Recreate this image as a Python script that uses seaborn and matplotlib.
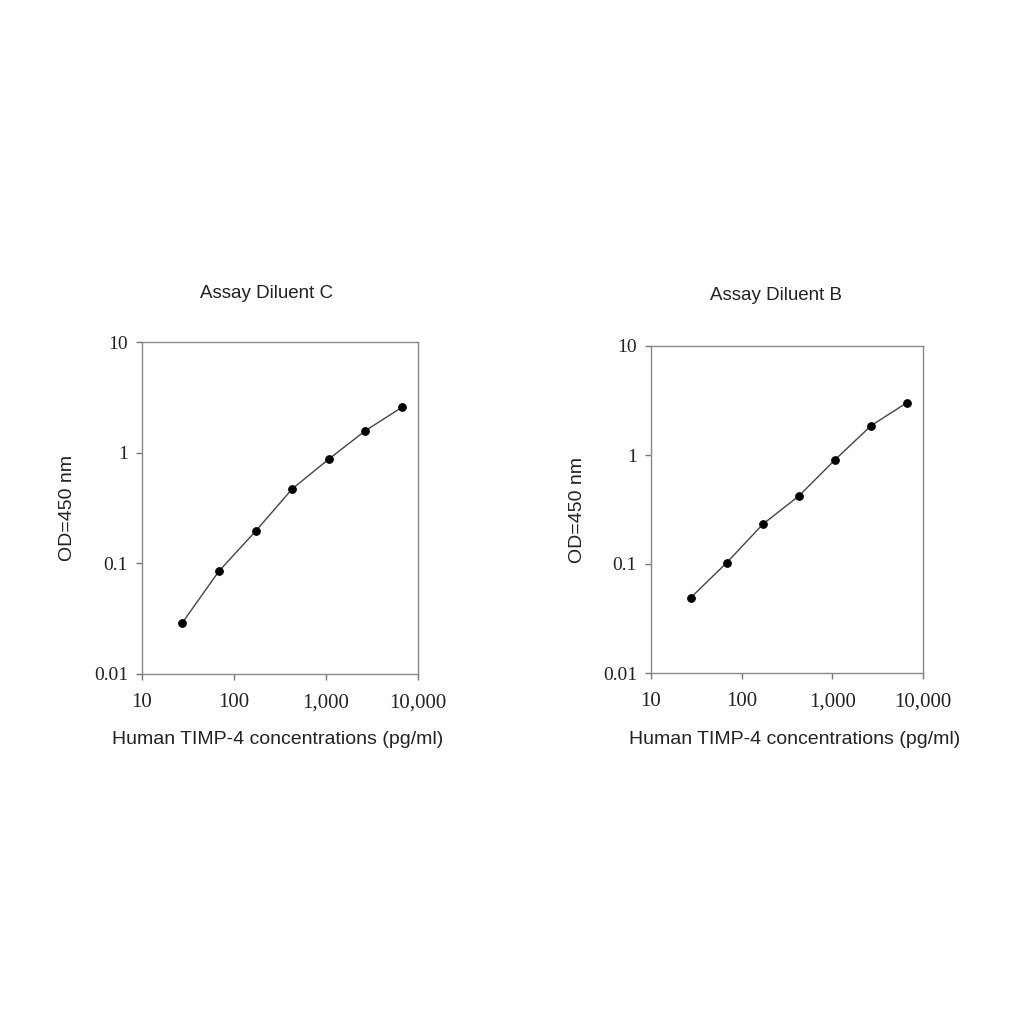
import numpy as np
import pandas as pd
import seaborn as sns
import matplotlib.pyplot as plt
from matplotlib.ticker import FixedLocator, FixedFormatter, NullLocator

# concentrations (pg/ml), 2.5-fold dilution series
conc = [27.4, 68.6, 171.5, 428.8, 1072, 2680, 6700]
od_diluent_c = [0.029, 0.085, 0.195, 0.47, 0.875, 1.58, 2.57]
od_diluent_b = [0.049, 0.103, 0.232, 0.422, 0.905, 1.86, 3.03]

titles = ["Assay Diluent C", "Assay Diluent B"]
x_ticks = [10, 100, 1000, 10000]
x_labels = ["10", "100", "1,000", "10,000"]
y_ticks = [0.01, 0.1, 1, 10]
y_labels = ["0.01", "0.1", "1", "10"]

sns.set_style("white")
plt.rcParams['font.family'] = ['Liberation Sans', 'DejaVu Sans']

fig = plt.figure(figsize=(10.24, 10.24), dpi=100)
W = 1024.0

# axes boxes in pixels: left, top, right, bottom
boxes = [(142, 342, 418, 674), (651, 346, 923, 673)]
title_pos = [(266, 293), (776, 295)]
xlabel_pos = [(278, 740), (795, 740)]
ylabel_pos = [(68, 508), (578, 510)]

for k, od in enumerate([od_diluent_c, od_diluent_b]):
    l, t, r, b = boxes[k]
    ax = fig.add_axes([l / W, 1 - b / W, (r - l) / W, (b - t) / W])
    df = pd.DataFrame({"conc": conc, "od": od})
    sns.lineplot(data=df, x="conc", y="od", ax=ax, color="#444444", linewidth=1.0,
                 marker="o", markersize=5.5, markerfacecolor="black",
                 markeredgecolor="black")
    ax.set_xscale("log")
    ax.set_yscale("log")
    ax.set_xlim(10, 10000)
    ax.set_ylim(0.01, 10)
    ax.xaxis.set_major_locator(FixedLocator(x_ticks))
    ax.xaxis.set_major_formatter(FixedFormatter(x_labels))
    ax.xaxis.set_minor_locator(NullLocator())
    ax.yaxis.set_major_locator(FixedLocator(y_ticks))
    ax.yaxis.set_major_formatter(FixedFormatter(y_labels))
    ax.yaxis.set_minor_locator(NullLocator())
    ax.tick_params(axis="both", which="major", direction="out", length=4,
                   width=1, color="#777777", labelsize=14, pad=6,
                   bottom=True, left=True)
    for lab in ax.get_xticklabels() + ax.get_yticklabels():
        lab.set_family(["Liberation Serif", "DejaVu Serif"])
        lab.set_color("#222222")
    ax.tick_params(axis="x", pad=10, labelsize=15)
    for sp in ax.spines.values():
        sp.set_color("#888888")
        sp.set_linewidth(1.0)
    ax.set_xlabel("")
    ax.set_ylabel("")

    fig.text(title_pos[k][0] / W, 1 - title_pos[k][1] / W, titles[k],
             ha="center", va="center", fontsize=13.5, color="#222222")
    fig.text(xlabel_pos[k][0] / W, 1 - xlabel_pos[k][1] / W,
             "Human TIMP-4 concentrations (pg/ml)",
             ha="center", va="center", fontsize=14, color="#222222")
    fig.text(ylabel_pos[k][0] / W, 1 - ylabel_pos[k][1] / W, "OD=450 nm",
             ha="center", va="center", rotation=90, fontsize=14, color="#222222")

fig.savefig("out.png", dpi=100, facecolor="white")
